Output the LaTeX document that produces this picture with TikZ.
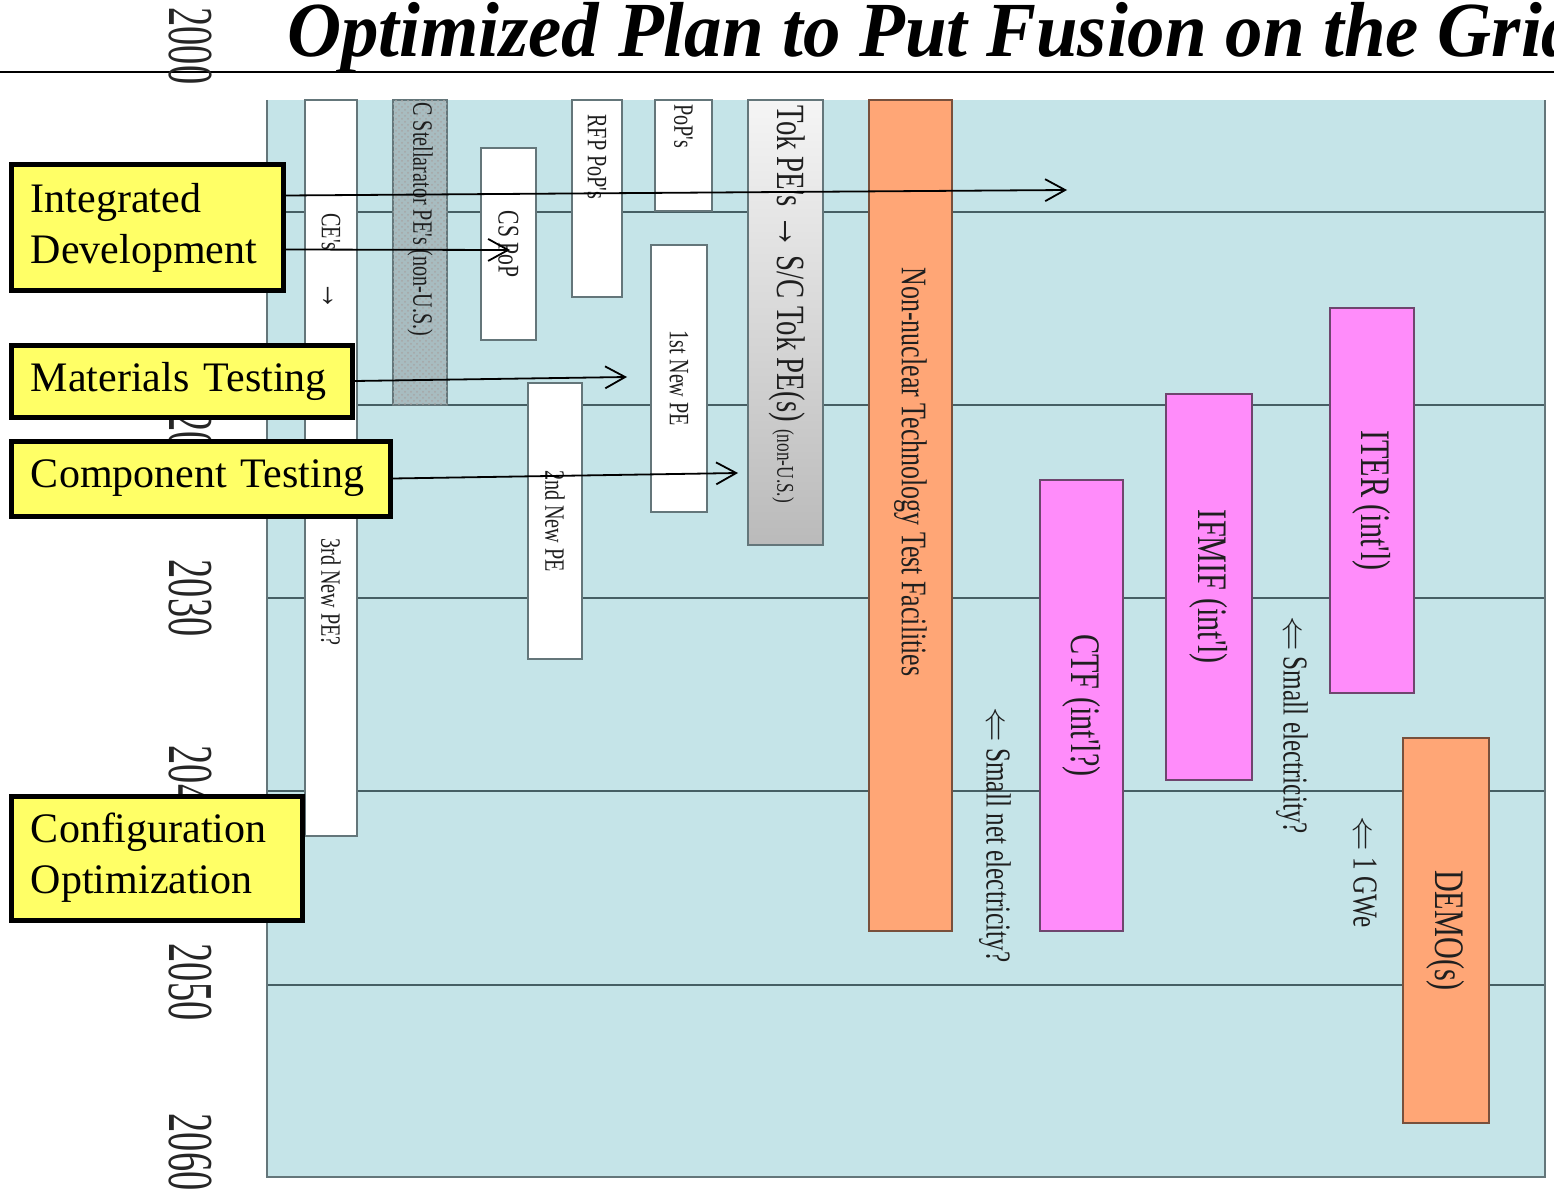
\documentclass[tikz,border=0pt]{standalone}
\usepackage{fontspec}
\setmainfont{Liberation Serif}
\newfontfamily\chartfont{Liberation Serif}[FakeStretch=0.72]
\newfontfamily\yearfont{Liberation Serif}[FakeStretch=0.6]
\newfontfamily\titlefont{Liberation Serif}[FakeStretch=0.96]
\usetikzlibrary{arrows.meta, patterns}
\definecolor{chartblue}{RGB}{197,228,232}
\definecolor{edgegray}{RGB}{100,118,122}
\definecolor{gridgray}{RGB}{70,95,100}
\definecolor{labelyellow}{RGB}{255,255,102}
\definecolor{facorange}{RGB}{255,166,118}
\definecolor{oredge}{RGB}{120,80,60}
\definecolor{facmagenta}{RGB}{255,140,250}
\definecolor{magedge}{RGB}{110,70,110}
\definecolor{stellgray}{RGB}{168,188,192}
\newcommand{\backarrow}{{\fontsize{16}{16}\selectfont$\Leftarrow$}}

\begin{document}
\begin{tikzpicture}[x=0.5pt, y=-0.5pt,
  every node/.style={inner sep=0pt},
  title/.style={font=\titlefont\bfseries\itshape\fontsize{39}{44}\selectfont, anchor=base west},
  year/.style={font=\yearfont\fontsize{32}{36}\selectfont, rotate=-90, text=black!85},
  bar/.style={draw=edgegray, line width=1pt, rotate=-90, text=black!88, font=\chartfont\fontsize{14}{16}\selectfont},
  pebar/.style={bar, fill=white},
  facbar/.style={bar, font=\chartfont\fontsize{21}{24}\selectfont},
  magbar/.style={facbar, fill=facmagenta, draw=magedge},
  orbar/.style={facbar, fill=facorange, draw=oredge},
  bartext/.style={rotate=-90, text=black!88, font=\chartfont\fontsize{14}{16}\selectfont},
  note/.style={rotate=-90, text=black!88, font=\chartfont\fontsize{17.5}{20}\selectfont},
  lane/.style={draw=black, line width=2.5pt, fill=labelyellow, font=\fontsize{21}{25.5}\selectfont, align=left, inner xsep=10pt, anchor=north west},
  arr/.style={-{Straight Barb[length=10pt, width=11pt]}, line width=0.9pt},
  gridline/.style={gridgray, line width=0.8pt}
]
  \useasboundingbox (0,0) rectangle (1554,1193);

  % Title
  \node[title] (title) at (287,57) {Optimized Plan to Put Fusion on the Grid};
  \draw[line width=1.2pt] (0,72) -- (1554,72);

  % Chart area and year grid
  \fill[chartblue] (267,100) rectangle (1545,1177);
  \foreach \yy in {212,405,598,791,985}
    \draw[gridline] (267,\yy) -- (1545,\yy);
  \draw[edgegray, line width=1pt] (267,100) -- (267,1177) -- (1545,1177) -- (1545,100);

  \foreach \yr/\yy in {2000/46, 2010/226, 2020/412, 2030/598, 2040/784, 2050/982, 2060/1152}
    \node[year] (y\yr) at (190,\yy) {\yr};

  % Configuration lane
  \node[pebar, minimum width=368pt, minimum height=26pt] (cecol) at (331,468) {};
  \node[bartext, anchor=west] (cetxt) at (331,213) {CE's\hspace{1.1em}{\fontsize{20}{20}\selectfont →}};
  \node[bartext, anchor=west] (pe3txt) at (331,538) {3rd New PE?};

  \node[bar, fill=stellgray, postaction={pattern=crosshatch dots, pattern color=gray!70}, minimum width=152.5pt, minimum height=27pt] (stell) at (420,252.5) {};
  \node[bartext, anchor=west] (stelltxt) at (420,102) {C Stellarator PE's (non-U.S.)};

  \node[pebar, minimum width=96pt, minimum height=27.5pt, font=\chartfont\fontsize{15}{17}\selectfont] (cspop) at (508.5,244) {CS PoP};
  \node[pebar, minimum width=98.5pt, minimum height=25pt] (rfppop) at (597,198.5) {};
  \node[bartext, anchor=west] (rfptxt) at (597,114) {RFP PoP's};
  \node[pebar, minimum width=55.5pt, minimum height=28.5pt] (pops) at (683.5,155.5) {};
  \node[bartext, anchor=west] (popstxt) at (683.5,104) {PoP's};
  \node[pebar, minimum width=133.5pt, minimum height=28pt] (newpe1) at (679,378.5) {1st New PE};
  \node[pebar, minimum width=138pt, minimum height=27pt] (newpe2) at (555,521) {2nd New PE};

  \node[bar, top color=black!4, bottom color=black!27, minimum width=222.5pt, minimum height=37.5pt] (tokpe) at (785.5,322.5) {};
  \node[bartext, anchor=west, font=\chartfont\fontsize{20}{22}\selectfont] (toktxt) at (787,105)
    {Tok PE's {\fontsize{24}{24}\selectfont →} S/C Tok PE(s) {\fontsize{12}{13}\selectfont (non-U.S.)}};

  % Test facilities
  \node[orbar, minimum width=415.5pt, minimum height=41.5pt] (nonnuc) at (910.5,515.5) {};
  \node[bartext, font=\chartfont\fontsize{18}{20}\selectfont] (nonnuctxt) at (910.5,472) {Non-nuclear Technology Test Facilities};
  \node[magbar, minimum width=225.5pt, minimum height=41.5pt] (ctf) at (1081.5,705.5) {CTF (int'l?)};
  \node[magbar, minimum width=193pt, minimum height=43pt] (ifmif) at (1209,587) {IFMIF (int'l)};
  \node[magbar, minimum width=192.5pt, minimum height=42pt] (iter) at (1372,500.5) {ITER (int'l)};
  \node[orbar, minimum width=192.5pt, minimum height=43pt] (demo) at (1446,930.5) {DEMO(s)};

  \node[note] (smallnet) at (995,835) {\backarrow\ Small net electricity?};
  \node[note] (smallel) at (1292,725) {\backarrow\ Small electricity?};
  \node[note] (onegwe) at (1365,872) {\backarrow\ 1 GWe};

  % Lane labels
  \node[lane, text width=116pt, minimum height=62.5pt] (intdev) at (8.5,162.5) {Integrated\\Development};
  \node[lane, text width=150.5pt, minimum height=36pt] (mattest) at (8.5,342.5) {Materials Testing};
  \node[lane, text width=169.5pt, minimum height=37.5pt] (comptest) at (8.5,438.5) {Component Testing};
  \node[lane, text width=125.5pt, minimum height=62pt] (confopt) at (8.5,793.5) {Configuration\\Optimization};

  \coordinate (idfar) at (1067,190);
  \coordinate (idnear) at (510,250);
  \coordinate (matend) at (627,377);
  \coordinate (compend) at (738,473);

  \draw[arr] ([yshift=16pt]intdev.east) -- (idfar);
  \draw[arr] ([yshift=-11pt]intdev.east) -- (idnear);
  \draw[arr] (mattest.east) -- (matend);
  \draw[arr] (comptest.east) -- (compend);

\end{tikzpicture}
\end{document}
